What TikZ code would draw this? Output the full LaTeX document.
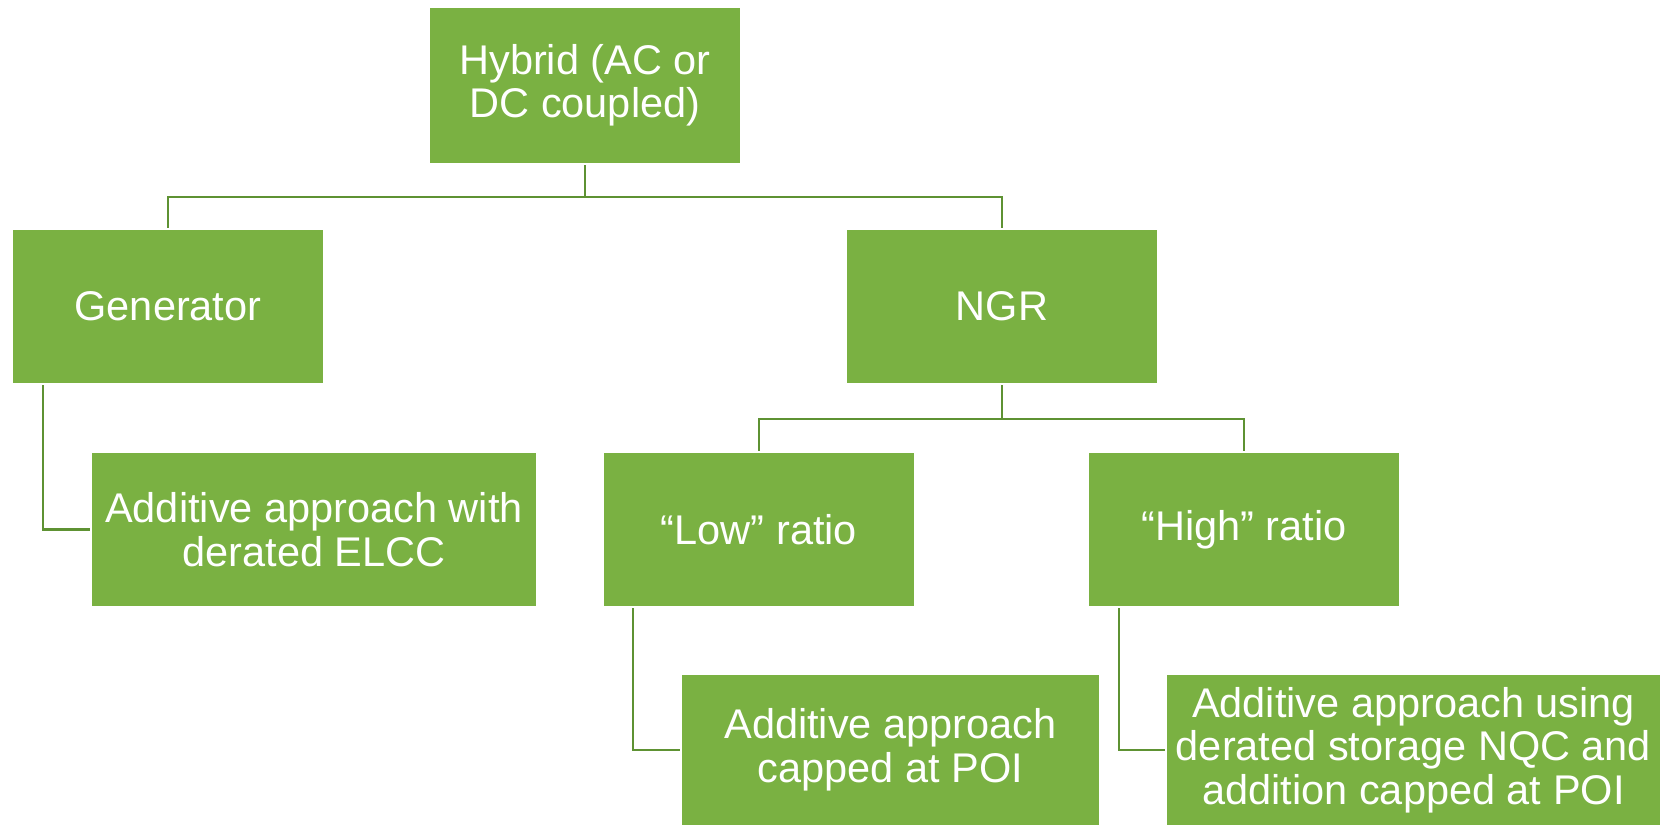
\documentclass[tikz,border=0pt]{standalone}
\usepackage{fontspec}
\setmainfont{Liberation Sans}
\definecolor{boxgreen}{HTML}{7AB142}
\definecolor{linegreen}{HTML}{5E9233}
\begin{document}
\begin{tikzpicture}[x=1pt,y=-1pt,
  box/.style={fill=boxgreen, text=white, align=center, inner sep=0pt,
    font=\fontsize{41.5}{43.5}\selectfont},
  conn/.style={draw=linegreen, line width=2.2pt, shorten <=2pt, shorten >=2pt}]
  \useasboundingbox (0,0) rectangle (1660,825);

  % boxes
  \node[box, minimum width=310pt, minimum height=155pt] (hyb) at (585,85.5) {Hybrid (AC or\\DC coupled)};
  \node[box, minimum width=310pt, minimum height=153pt] (gen) at (168,306.5) {Generator};
  \node[box, minimum width=310pt, minimum height=153pt] (ngr) at (1002,306.5) {NGR};
  \node[box, minimum width=444pt, minimum height=153pt] (elcc) at (314,529.5) {Additive approach with\\derated ELCC};
  \node[box, minimum width=310pt, minimum height=153pt] (low) at (759,529.5) {“Low” ratio};
  \node[box, minimum width=310pt, minimum height=153pt] (high) at (1244,529.5) {“High” ratio};
  \node[box, minimum width=417pt, minimum height=150pt] (cap) at (890.5,750) {Additive approach\\capped at POI};
  \node[box, minimum width=493pt, minimum height=150pt] (addu) at (1413.5,750) {Additive approach using\\derated storage NQC and\\addition capped at POI};

  % tree connectors
  \coordinate (bus1) at (585,197);
  \coordinate (bus2) at (1002,419);
  \draw[conn, shorten >=0pt] (hyb.south) -- (bus1);
  \draw[conn, shorten <=0pt] (bus1) -| (gen.north);
  \draw[conn, shorten <=0pt] (bus1) -| (ngr.north);
  \draw[conn, shorten >=0pt] (ngr.south) -- (bus2);
  \draw[conn, shorten <=0pt] (bus2) -| (low.north);
  \draw[conn, shorten <=0pt] (bus2) -| (high.north);

  % side connectors
  \draw[conn] ([xshift=30pt]gen.south west) |- (elcc.west);
  \draw[conn] ([xshift=29pt]low.south west) |- (cap.west);
  \draw[conn] ([xshift=30pt]high.south west) |- (addu.west);
\end{tikzpicture}
\end{document}
